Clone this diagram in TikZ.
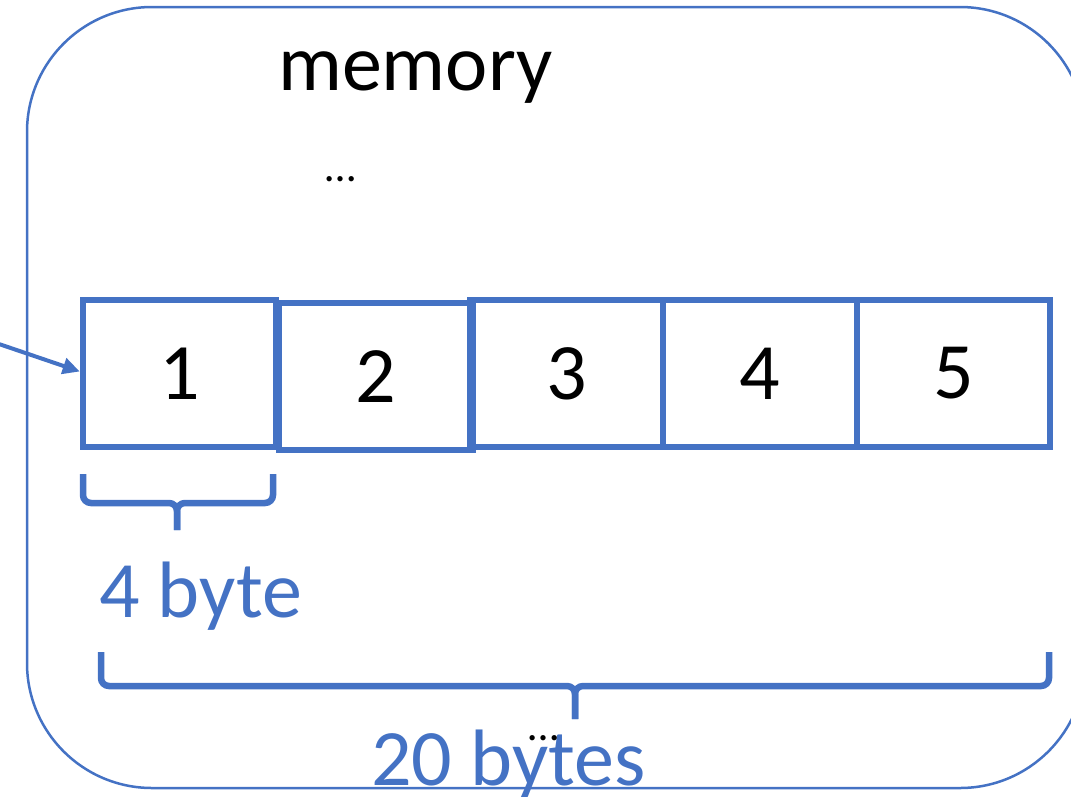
\documentclass[tikz,border=0pt]{standalone}
\usepackage{fontspec}
\setmainfont{Carlito}
\usetikzlibrary{arrows.meta}
\definecolor{memblue}{HTML}{4472C4}
\tikzset{
  membox/.style={draw=memblue, line width=2.5pt, rectangle, rounded corners=125pt, minimum width=1058pt, minimum height=781pt},
  cell/.style={draw=memblue, line width=6pt, rectangle, minimum width=193.5pt, minimum height=147pt, font=\fontsize{80}{96}\selectfont, inner sep=0pt},
  brace/.style={draw=memblue, line width=6.5pt, rounded corners=8pt},
  ptr/.style={draw=memblue, line width=4pt, -{Triangle[length=17pt,width=16pt]}},
  bigtext/.style={font=\fontsize{80}{96}\selectfont, inner sep=0pt},
  dots/.style={font=\fontsize{44}{52}\selectfont, inner sep=0pt}
}

\begin{document}
\begin{tikzpicture}[x=1pt, y=-1pt]
    \useasboundingbox (0,0) rectangle (1071,796);
    \clip (0,0) rectangle (1071,796);

    % the memory region
    \node[membox] (mem) at (556,397.5) {};
    \node[bigtext, anchor=base west] (title) at (278,90) {memory};
    \node[dots, anchor=base] (dtop) at (341,181) {…};

    % the five cells of the array
    \node[cell] (c1) at (179.5,373.5) {1};
    \node[cell] (c2) at (376,376.5) {2};
    \node[cell] (c3) at (566.5,373.5) {3};
    \node[cell] (c4) at (760,373.5) {4};
    \node[cell] (c5) at (953.5,373.5) {5};

    % pointer coming in from the left
    \coordinate (src) at (-4,343);
    \draw[ptr] (src) -- ([yshift=2pt]c1.west);

    % one element
    \draw[brace] (83,474) |- (177,503) -- (177,530);
    \draw[brace] (273,474) |- (177,503) -- (177,530);
    \node[bigtext, anchor=base west, text=memblue] (one) at (99,617) {4 byte};

    % whole array
    \draw[brace] (101,652) |- (575,686) -- (575,719);
    \draw[brace] (1049,652) |- (575,686) -- (575,719);
    \node[bigtext, anchor=base west, text=memblue] (all) at (371,785) {20 bytes};
    \node[dots, anchor=base] (dbot) at (544,740) {…};
\end{tikzpicture}
\end{document}
